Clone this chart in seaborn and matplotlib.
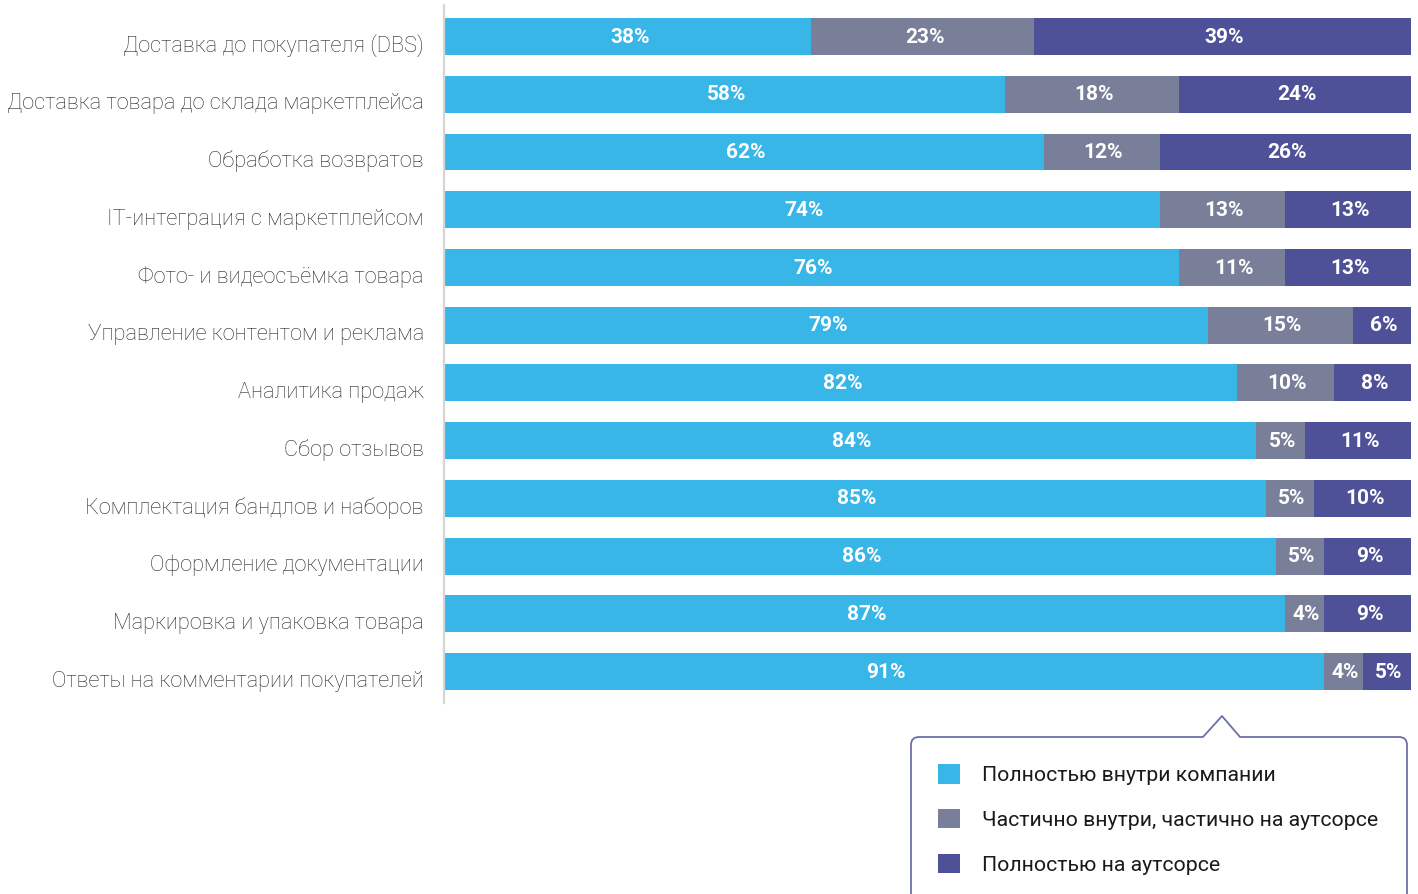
import matplotlib
matplotlib.use("Agg")
import matplotlib.pyplot as plt
import matplotlib.transforms as mtransforms
from matplotlib.path import Path
from matplotlib.patches import PathPatch, Patch
import numpy as np
import pandas as pd
import seaborn as sns

categories = [
    "Доставка до покупателя (DBS)",
    "Доставка товара до склада маркетплейса",
    "Обработка возвратов",
    "IT-интеграция с маркетплейсом",
    "Фото- и видеосъёмка товара",
    "Управление контентом и реклама",
    "Аналитика продаж",
    "Сбор отзывов",
    "Комплектация бандлов и наборов",
    "Оформление документации",
    "Маркировка и упаковка товара",
    "Ответы на комментарии покупателей",
]
in_house = [38, 58, 62, 74, 76, 79, 82, 84, 85, 86, 87, 91]
partial = [23, 18, 12, 13, 11, 15, 10, 5, 5, 5, 4, 4]
outsourced = [39, 24, 26, 13, 13, 6, 8, 11, 10, 9, 9, 5]
series_names = [
    "Полностью внутри компании",
    "Частично внутри, частично на аутсорсе",
    "Полностью на аутсорсе",
]
colors = ["#38B6E7", "#7A7F99", "#4F5198"]

sns.set_theme(style="white")
plt.rcParams["font.family"] = ["Roboto", "DejaVu Sans"]

W, H = 1418, 894
fig = plt.figure(figsize=(W / 100, H / 100), dpi=100)
ax = fig.add_axes([444 / W, 1 - 703 / H, (1411 - 444) / W, (703 - 5) / H])

df = pd.DataFrame({
    "category": categories,
    "a": in_house,
    "b": partial,
    "c": outsourced,
})
df["ab"] = df["a"] + df["b"]
df["abc"] = df["ab"] + df["c"]

# stacked bars: draw cumulative totals from the back to the front
for col, color in zip(["abc", "ab", "a"], colors[::-1]):
    sns.barplot(data=df, x=col, y="category", orient="h", order=categories,
                color=color, width=0.64, linewidth=0, saturation=1, ax=ax)

# segment value labels
lefts = np.zeros(len(categories))
for vals in (in_house, partial, outsourced):
    vals = np.asarray(vals, dtype=float)
    for i, v in enumerate(vals):
        ax.text(lefts[i] + v / 2 + 0.2, i + 0.01, f"{int(v)}%", ha="center",
                va="center", color="white", fontsize=15, fontweight="bold",
                family=["Roboto", "DejaVu Sans"])
    lefts += vals

ax.set_xlim(0, 100)
ax.set_ylim(11.545, -0.546)
ax.set_xlabel("")
ax.set_ylabel("")
ax.set_xticks([])
for side in ("top", "right", "bottom"):
    ax.spines[side].set_visible(False)
ax.spines["left"].set_color("#d5d5d5")
ax.spines["left"].set_linewidth(1.6)
ax.tick_params(axis="y", length=0, pad=14.5)
offset = mtransforms.ScaledTranslation(0, -7 / 100, fig.dpi_scale_trans)
for lab in ax.get_yticklabels():
    lab.set_fontsize(15.7)
    lab.set_fontweight("light")
    lab.set_color("#2a2a2a")
    lab.set_transform(lab.get_transform() + offset)

# legend frame with a pointer notch, in pixel coordinates
px = mtransforms.Affine2D().scale(1 / W, -1 / H).translate(0, 1) + fig.transFigure
r = 8
verts = [
    (911, 900), (911, 737 + r), (911, 737), (911 + r, 737),
    (1203, 737), (1222, 716), (1240, 737),
    (1407 - r, 737), (1407, 737), (1407, 737 + r), (1407, 900),
]
codes = [
    Path.MOVETO, Path.LINETO, Path.CURVE3, Path.CURVE3,
    Path.LINETO, Path.LINETO, Path.LINETO,
    Path.LINETO, Path.CURVE3, Path.CURVE3, Path.LINETO,
]
frame = PathPatch(Path(verts, codes), transform=px, facecolor="none",
                  edgecolor="#6B6FAA", linewidth=1.3, joinstyle="round")
fig.patches.append(frame)

handles = [Patch(facecolor=c, edgecolor="none") for c in colors]
fig.legend(handles, series_names, loc="upper left",
           bbox_to_anchor=(938 / W, 1 - 764 / H), frameon=False,
           fontsize=15.3, handlelength=1.035, handleheight=1.035,
           handletextpad=1.05, labelspacing=1.12, borderpad=0,
           borderaxespad=0, labelcolor="#1a1a1a")

fig.savefig("out.png", dpi=100)
